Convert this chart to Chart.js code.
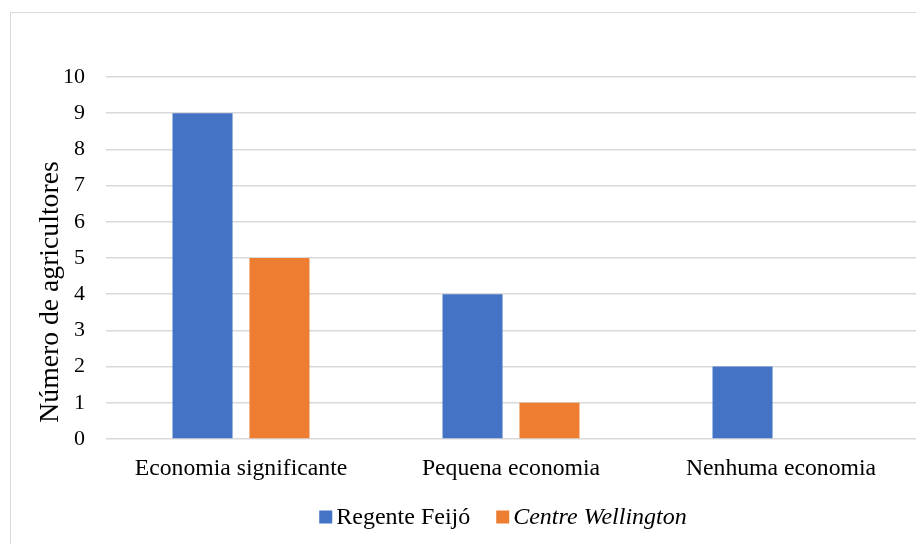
<!DOCTYPE html>
<html>
<head>
<meta charset="utf-8">
<script src="https://cdn.jsdelivr.net/npm/chart.js@4/dist/chart.umd.min.js"></script>
<style>
  html, body { margin: 0; padding: 0; background: #fff; }
  #wrap { width: 916px; height: 544px; }
</style>
</head>
<body>
<div id="wrap"><canvas id="c" width="916" height="544"></canvas></div>
<script>
// Categories and series
const categories = ['Economia significante', 'Pequena economia', 'Nenhuma economia'];
const regenteFeijo = [9, 4, 2];
const centreWellington = [5, 1, 0];
const seriesNames = ['Regente Feijó', 'Centre Wellington'];
const yTicks = [0, 1, 2, 3, 4, 5, 6, 7, 8, 9, 10];
const yTitle = 'Número de agricultores';

const FONT = "'Liberation Serif', 'Times New Roman', serif";
const BLUE = '#4472C4';
const ORANGE = '#ED7D31';
const GRID = '#d9d9d9';

// Outer frame, rotated axis title and the legend drawn straight onto the canvas
const decorations = {
  id: 'decorations',
  beforeDraw(chart) {
    const ctx = chart.ctx;
    ctx.save();
    ctx.fillStyle = '#fff';
    ctx.fillRect(0, 0, chart.width, chart.height);
    ctx.strokeStyle = GRID;
    ctx.lineWidth = 1;
    ctx.strokeRect(10.5, 12.5, 1200, 1200);
    ctx.restore();
  },
  afterDraw(chart) {
    const ctx = chart.ctx;
    const area = chart.chartArea;
    ctx.save();
    // y axis title
    ctx.translate(51, 292);
    ctx.rotate(-Math.PI / 2);
    ctx.font = '27.7px ' + FONT;
    ctx.fillStyle = '#000';
    ctx.textAlign = 'center';
    ctx.textBaseline = 'middle';
    ctx.fillText(yTitle, 0, 0);
    ctx.restore();

    // legend
    ctx.save();
    const box = 13, gap = 4, itemGap = 26;
    const items = chart.data.datasets.map((ds, i) => ({
      text: ds.label,
      color: ds.backgroundColor,
      font: (i === 1 ? 'italic ' : '') + '24px ' + FONT
    }));
    let total = 0;
    items.forEach((it, i) => {
      ctx.font = it.font;
      it.w = ctx.measureText(it.text).width;
      total += box + gap + it.w + (i < items.length - 1 ? itemGap : 0);
    });
    const cx = (area.left + area.right) / 2 - 8;
    const cy = 517;
    let x = cx - total / 2;
    items.forEach(it => {
      ctx.fillStyle = it.color;
      ctx.fillRect(x, cy - box / 2, box, box);
      x += box + gap;
      ctx.font = it.font;
      ctx.fillStyle = '#000';
      ctx.textAlign = 'left';
      ctx.textBaseline = 'middle';
      ctx.fillText(it.text, x, cy + 1);
      x += it.w + itemGap;
    });
    ctx.restore();
  }
};

new Chart(document.getElementById('c'), {
  type: 'bar',
  data: {
    labels: categories,
    datasets: [
      { label: seriesNames[0], data: regenteFeijo, backgroundColor: BLUE },
      { label: seriesNames[1], data: centreWellington, backgroundColor: ORANGE }
    ]
  },
  options: {
    responsive: false,
    animation: false,
    layout: { padding: { top: 77, left: 0, right: 0, bottom: 0 } },
    plugins: {
      legend: { display: false },
      tooltip: { enabled: false },
      title: { display: false }
    },
    datasets: {
      bar: { categoryPercentage: 0.57, barPercentage: 0.78 }
    },
    scales: {
      x: {
        grid: { display: false, drawTicks: false },
        border: { display: false },
        ticks: {
          font: { family: FONT, size: 23.7 },
          color: '#000',
          padding: 16,
          maxRotation: 0
        },
        afterFit(scale) { scale.height = 105; }
      },
      y: {
        min: 0,
        max: 10,
        afterBuildTicks(scale) { scale.ticks = yTicks.map(v => ({ value: v })); },
        grid: { color: GRID, lineWidth: 1.5, drawTicks: false },
        border: { display: false },
        ticks: {
          font: { family: FONT, size: 22 },
          color: '#000',
          padding: 21
        },
        afterFit(scale) { scale.width = 106; }
      }
    }
  },
  plugins: [decorations]
});
</script>
</body>
</html>
